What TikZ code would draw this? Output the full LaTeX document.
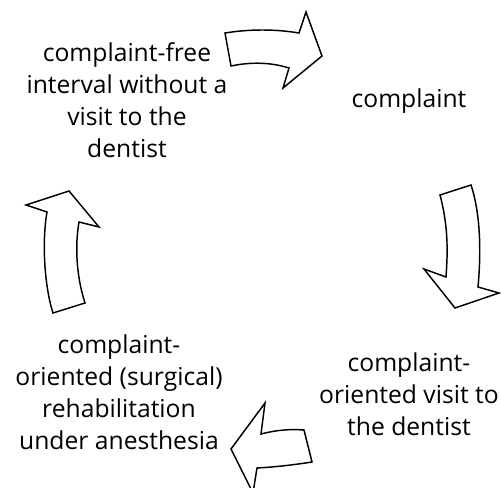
\documentclass[tikz,border=0pt]{standalone}
\usepackage{fontspec}
\setmainfont{Open Sans}
\usepackage{tikz}
\usetikzlibrary{positioning}
\tikzset{
    every node/.append style={align=center},
    stage/.style={font=\fontsize{18.5}{24}\selectfont,inner sep=0pt},
    blockarr/.style={draw=black,line width=1.1pt,fill=white,line join=miter}
}

\begin{document}
\begin{tikzpicture}[x=0.75pt,y=-0.75pt]
    \useasboundingbox (0,0) rectangle (501,488);
    \clip (0,0) rectangle (501,488);
    \node[stage] (free)   at (127,100) {complaint-free\\interval without a\\visit to the\\dentist};
    \node[stage] (compl)  at (409,101) {complaint};
    \node[stage] (visit)  at (409,394) {complaint-\\oriented visit to\\the dentist};
    \node[stage] (rehab)  at (119,392) {complaint-\\oriented (surgical)\\rehabilitation\\under anesthesia};

    \draw[blockarr] (225,33) .. controls (250,29) and (275,29) .. (299,33) -- (306,12) -- (322,56)
        -- (283,88) -- (289,68) .. controls (270,62) and (250,62) .. (231,66) -- cycle;
    \draw[blockarr] (440,195) -- (471,185) .. controls (481,215) and (481,255) .. (478,287)
        -- (499,293) -- (455,308) -- (424,269) -- (446,277) .. controls (448,250) and (448,225) .. (440,195) -- cycle;
    \draw[blockarr] (231,449) -- (265,403) -- (261,434) .. controls (276,430) and (290,429) .. (304,430)
        -- (312,462) .. controls (293,465) and (275,467) .. (257,468) -- (253,493) -- cycle;
    \draw[blockarr] (53,313) -- (85,303) .. controls (76,275) and (75,245) .. (79,222) -- (99,227)
        -- (69,191) -- (26,205) -- (47,212) .. controls (42,240) and (44,285) .. (53,313) -- cycle;
\end{tikzpicture}
\end{document}
